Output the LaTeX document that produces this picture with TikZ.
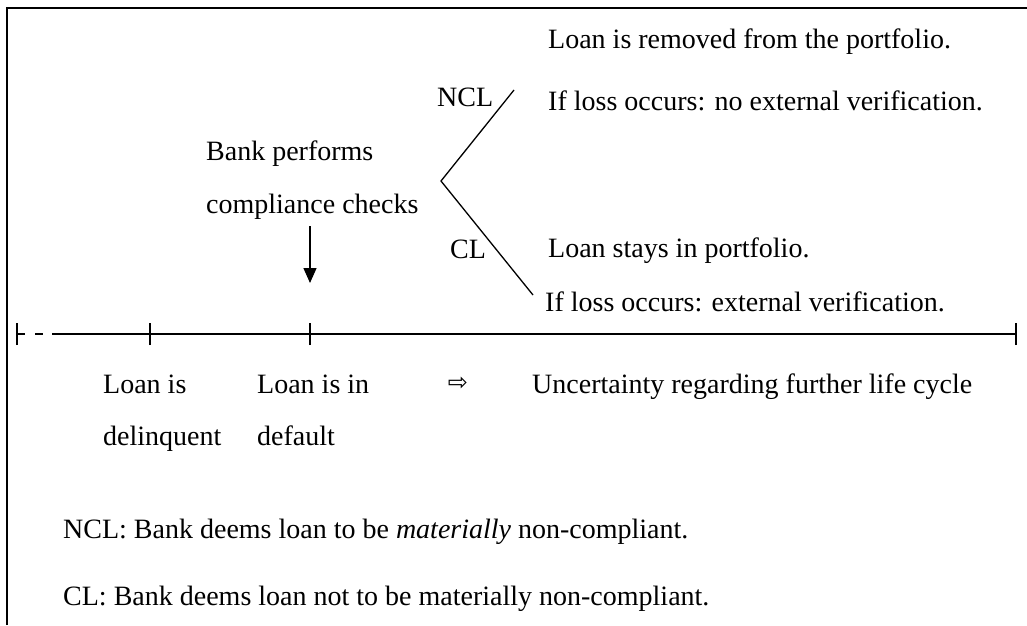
\documentclass[tikz,border=0pt]{standalone}
\usepackage{fontspec}
\setmainfont{Liberation Serif}
\newfontfamily\symfont{DejaVu Sans}
\usetikzlibrary{arrows.meta}
\begin{document}
\begin{tikzpicture}[x=1pt,y=-1pt,
  txt/.style={anchor=base west,inner sep=0pt,font=\fontsize{28}{34}\selectfont},
  frameline/.style={line width=2pt},
  tline/.style={line width=1.3pt},
  tick/.style={line width=1.3pt}]
\useasboundingbox (0,0) rectangle (1027,625);
\fill[white] (0,0) rectangle (1027,625);
% frame (top and left edges)
\coordinate (fbl) at (7,625);
\coordinate (ftl) at (7,8);
\coordinate (ftr) at (1027,8);
\draw[frameline] (fbl) -- (ftl) -- (ftr);
% timeline
\coordinate (t0) at (17,334);
\coordinate (d1) at (52,334);
\coordinate (t1) at (150,334);
\coordinate (t2) at (310,334);
\coordinate (t3) at (1016,334);
\draw[tline,dash pattern=on 8pt off 10pt] (t0) -- (d1);
\draw[tline] (d1) -- (t3);
\foreach \p in {t0,t1,t2,t3}
  \draw[tick] ([yshift=-11pt]\p) -- ([yshift=11pt]\p);
% arrow to default
\coordinate (a1) at (310,226);
\coordinate (a2) at (310,283);
\draw[tline,-{Triangle[length=15pt,width=13pt]}] (a1) -- (a2);
% branches
\coordinate (v) at (441,181);
\coordinate (ue) at (514,90);
\coordinate (le) at (533,295);
\draw[tline] (ue) -- (v) -- (le);
% texts
\node[txt] (r1) at (548,48) {Loan is removed from the portfolio.};
\node[txt] (r2) at (548,110) {If loss occurs: no external verification.};
\node[txt] (ncl) at (437,106) {NCL};
\node[txt] (bp) at (206,160) {Bank performs};
\node[txt] (cc) at (206,213) {compliance checks};
\node[txt] (cl) at (450,258) {CL};
\node[txt] (s1) at (548,257) {Loan stays in portfolio.};
\node[txt] (s2) at (545,311) {If loss occurs: external verification.};
\node[txt] (li1) at (103,393) {Loan is};
\node[txt] (li2) at (103,445) {delinquent};
\node[txt] (ld1) at (257,393) {Loan is in};
\node[txt] (ld2) at (257,445) {default};
\node[inner sep=0pt,font=\symfont\fontsize{24}{28}\selectfont] (arr) at (458,384) {⇨};
\node[txt] (unc) at (532,393) {Uncertainty regarding further life cycle};
\node[txt] (n1) at (63,538) {NCL: Bank deems loan to be \textit{materially} non-compliant.};
\node[txt] (n2) at (63,605) {CL: Bank deems loan not to be materially non-compliant.};
\end{tikzpicture}
\end{document}
